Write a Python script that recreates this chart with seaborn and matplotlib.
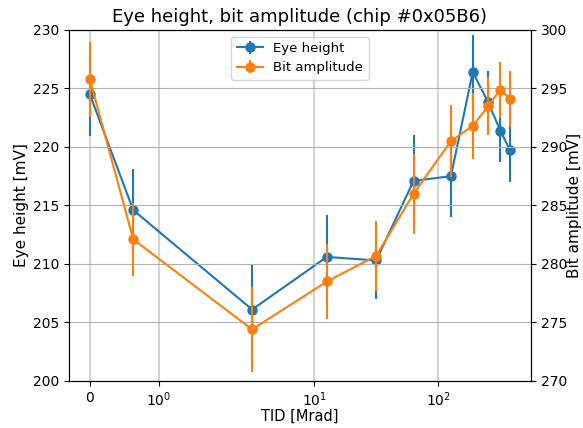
import numpy as np
import seaborn as sns
from matplotlib import pyplot as plt

# TID steps [Mrad]
tid = [0, 0.63, 3.15, 12.6, 31.5, 63, 126, 189, 252, 315, 378]

eye_height = [224.5, 214.6, 206.1, 210.6, 210.3, 217.1, 217.5, 226.4, 223.8, 221.4, 219.7]
eye_height_err = [3.6, 3.5, 3.9, 3.6, 3.3, 3.9, 3.5, 3.2, 2.7, 2.7, 2.7]

bit_amplitude = [295.8, 282.1, 274.4, 278.5, 280.7, 286.0, 290.5, 291.8, 293.5, 294.9, 294.1]
bit_amplitude_err = [3.2, 3.1, 3.6, 3.2, 3.0, 3.4, 3.1, 2.8, 2.5, 2.4, 2.4]


def plot_eye_and_amplitude():
    colors = sns.color_palette("tab10")
    fig, ax = plt.subplots(figsize=(5.83, 4.28), dpi=100)
    ax2 = ax.twinx()

    h1 = ax.errorbar(tid, eye_height, yerr=eye_height_err, fmt="o-", color=colors[0],
                     markersize=6.5, label="Eye height")
    h2 = ax2.errorbar(tid, bit_amplitude, yerr=bit_amplitude_err, fmt="o-", color=colors[1],
                      markersize=6.5, label="Bit amplitude")

    ax.set_xscale("symlog", linthresh=2)
    ax.set_ylim(200, 230)
    ax2.set_ylim(270, 300)

    ax.grid(axis="x", color="#d3d3d3", linewidth=1.5)
    ax2.grid(axis="y", color="#b0b0b0", linewidth=0.8)
    ax.set_axisbelow(True)

    ax.set_xlabel("TID [Mrad]", fontsize=10.5, labelpad=0)
    ax.set_ylabel("Eye height [mV]", fontsize=11, labelpad=2.5)
    ax2.set_ylabel("Bit amplitude [mV]", fontsize=11, labelpad=-0.5)
    ax.set_title("Eye height, bit amplitude (chip #0x05B6)", fontsize=13)
    ax.tick_params(labelsize=10)
    ax2.tick_params(labelsize=10)

    ax2.legend(handles=[h1, h2], loc="upper center", fontsize=9.5)

    fig.subplots_adjust(left=0.118, right=0.911, top=0.930, bottom=0.110)
    fig.savefig("out.png", dpi=100)


if __name__ == '__main__':
    plot_eye_and_amplitude()
